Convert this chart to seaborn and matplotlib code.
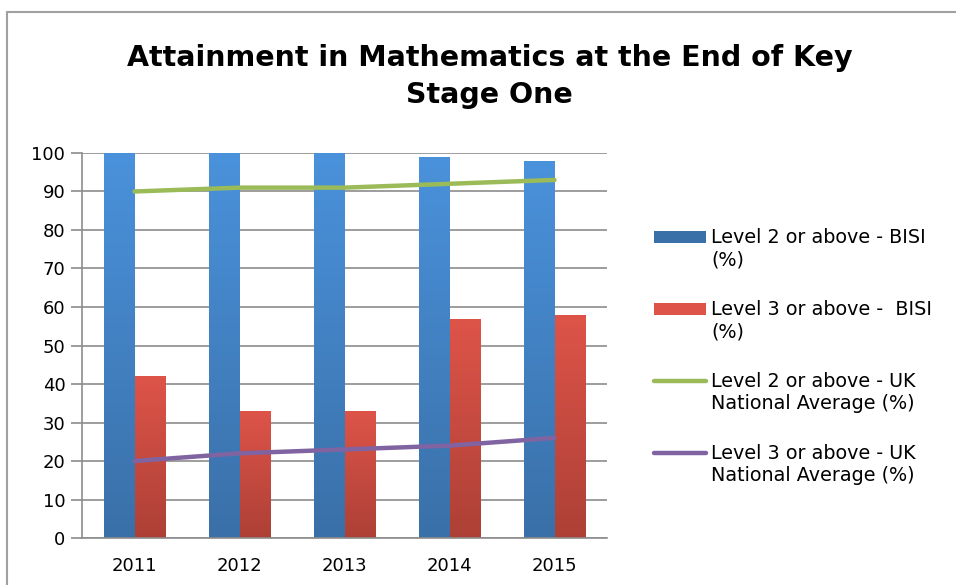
import numpy as np
import pandas as pd
import matplotlib
matplotlib.use("Agg")
import matplotlib.pyplot as plt
import seaborn as sns
from matplotlib.lines import Line2D
from matplotlib.patches import Rectangle
from matplotlib.colors import LinearSegmentedColormap

# ========== data ==========
years = ['2011', '2012', '2013', '2014', '2015']
level2_bisi = [100, 100, 100, 99, 98]
level3_bisi = [42, 33, 33, 57, 58]
level2_uk = [90, 91, 91, 92, 93]
level3_uk = [20, 22, 23, 24, 26]

bar_labels = ['Level 2 or above - BISI\n(%)', 'Level 3 or above -  BISI\n(%)']
line_labels = ['Level 2 or above - UK\nNational Average (%)', 'Level 3 or above - UK\nNational Average (%)']
title = 'Attainment in Mathematics at the End of Key\nStage One'

# colours (top, bottom) of gradient
blue_top, blue_bot = '#4a92dc', '#3a70a8'
red_top, red_bot = '#de5449', '#ad4036'
green = '#9bbb59'
purple = '#8064a2'
grid_col = '#8c8c8c'

sns.set_theme(style='white')
plt.rcParams['font.family'] = ['DejaVu Sans']
plt.rcParams['text.color'] = 'black'

df = pd.DataFrame({
    'Year': years * 2,
    'Value': level2_bisi + level3_bisi,
    'Series': [bar_labels[0]] * len(years) + [bar_labels[1]] * len(years),
})

W, H = 956, 585
fig = plt.figure(figsize=(W / 100, H / 100), dpi=100)
ax = fig.add_axes([0.0858, 0.0803, 0.5492, 0.6582])

sns.barplot(data=df, x='Year', y='Value', hue='Series', order=years,
            hue_order=bar_labels, palette=[blue_top, red_top], width=0.59,
            gap=0, saturation=1, legend=False, ax=ax, zorder=2)

# gradient fill for bars
ax.set_xlim(-0.5, len(years) - 0.5)
ax.set_ylim(0, 100)
grad = np.linspace(0, 1, 256).reshape(-1, 1)
for i, p in enumerate(ax.patches):
    top, bot = (blue_top, blue_bot) if i < len(years) else (red_top, red_bot)
    cmap = LinearSegmentedColormap.from_list('g', [bot, top])
    x0, y0 = p.get_x(), p.get_y()
    w, h = p.get_width(), p.get_height()
    im = ax.imshow(grad, cmap=cmap, origin='lower', aspect='auto',
                   extent=[x0, x0 + w, y0, y0 + h], zorder=2)
    im.set_clip_path(p)
    p.set_facecolor('none')
    p.set_edgecolor('none')
ax.set_xlim(-0.5, len(years) - 0.5)
ax.set_ylim(0, 100)

# UK averages as lines at category centres
xpos = np.arange(len(years))
sns.lineplot(x=xpos, y=level2_uk, color=green, lw=3.2, ax=ax, zorder=3,
             solid_capstyle='round')
sns.lineplot(x=xpos, y=level3_uk, color=purple, lw=3.2, ax=ax, zorder=3,
             solid_capstyle='round')

# axes styling
ax.set_yticks(range(0, 101, 10))
ax.set_xticks(xpos)
ax.set_xticklabels(years)
ax.set_xticks(np.arange(-0.5, len(years)), minor=True)
ax.tick_params(axis='x', which='major', length=0, labelsize=13, pad=14,
               labelcolor='black')
ax.tick_params(axis='x', which='minor', length=7, width=1.2, color=grid_col,
               direction='out')
ax.tick_params(axis='y', length=8, width=1.2, color=grid_col, labelsize=13,
               pad=4, labelcolor='black', left=True)
ax.yaxis.grid(True, color=grid_col, lw=1.2, zorder=0)
ax.set_axisbelow(True)
for s in ['top', 'right']:
    ax.spines[s].set_visible(False)
for s in ['left', 'bottom']:
    ax.spines[s].set_color(grid_col)
    ax.spines[s].set_linewidth(1.2)
ax.set_xlabel('')
ax.set_ylabel('')

fig.text(0.512, 1 - 44 / H, title, ha='center', va='top', fontsize=20.5,
         fontweight='bold', linespacing=1.42, color='black')

# legend, drawn by hand so the key sits on the first line of each label
handles = [
    Rectangle((0, 0), 1, 1, facecolor=blue_bot),
    Rectangle((0, 0), 1, 1, facecolor=red_top),
    Line2D([], [], color=green, lw=3.2, solid_capstyle='round'),
    Line2D([], [], color=purple, lw=3.2, solid_capstyle='round'),
]
labels = bar_labels + line_labels
hx0, hx1, tx = 654 / W, 706 / W, 711 / W
for k, (hd, lab) in enumerate(zip(handles, labels)):
    yc = 1 - (237 + 72 * k) / H
    if isinstance(hd, Rectangle):
        r = Rectangle((hx0, yc - 6 / H), hx1 - hx0, 12 / H,
                      facecolor=hd.get_facecolor(), edgecolor='none',
                      transform=fig.transFigure)
        fig.add_artist(r)
    else:
        fig.add_artist(Line2D([hx0, hx1], [yc, yc], color=hd.get_color(),
                              lw=3.2, solid_capstyle='round',
                              transform=fig.transFigure))
    fig.text(tx, yc + 9 / H, lab, ha='left', va='top', fontsize=13.8,
             linespacing=1.22, color='black')

# chart frame (top and left only)
fig.add_artist(Line2D([0.0073, 1.0], [0.979, 0.979], color='#a0a0a0', lw=1.5,
                      transform=fig.transFigure))
fig.add_artist(Line2D([0.0073, 0.0073], [0.0, 0.979], color='#a0a0a0', lw=1.5,
                      transform=fig.transFigure))

fig.savefig('out.png', dpi=100)
